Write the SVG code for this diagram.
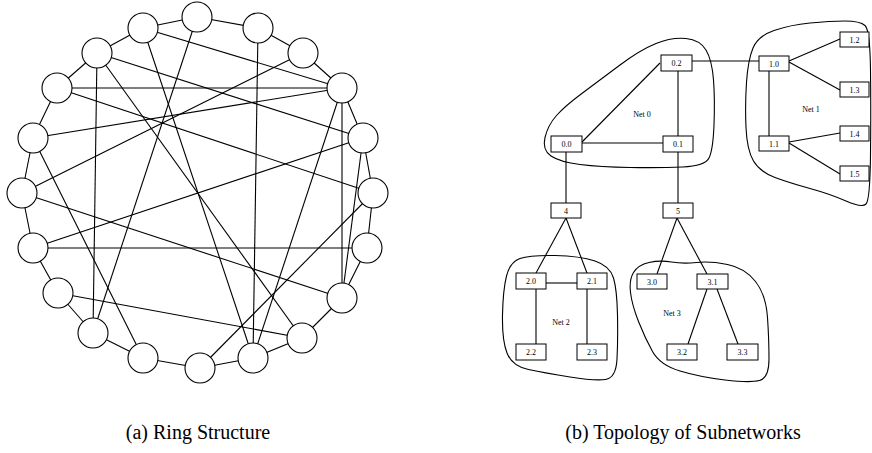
<svg xmlns="http://www.w3.org/2000/svg" width="872" height="453" viewBox="0 0 872 453">
<style>
.e{stroke:#000;stroke-width:1.1;fill:none}
.n{fill:#fff;stroke:#000;stroke-width:1.1}
.b{fill:#fff;stroke:#000;stroke-width:1}
.blob{fill:none;stroke:#000;stroke-width:1.1}
.t{font-family:"Liberation Serif",serif;font-size:8px;text-anchor:middle;fill:#000}
.cap{font-family:"Liberation Serif",serif;font-size:20px;text-anchor:middle;fill:#000}
</style>
<rect width="872" height="453" fill="#fff"/>
<g id="connectors" class="e">
<line x1="197" y1="17" x2="258" y2="28"/>
<line x1="258" y1="28" x2="303" y2="53"/>
<line x1="303" y1="53" x2="342" y2="88"/>
<line x1="342" y1="88" x2="363" y2="138"/>
<line x1="363" y1="138" x2="373" y2="193"/>
<line x1="373" y1="193" x2="367" y2="248"/>
<line x1="367" y1="248" x2="342" y2="298"/>
<line x1="342" y1="298" x2="302" y2="338"/>
<line x1="302" y1="338" x2="253" y2="358"/>
<line x1="253" y1="358" x2="200" y2="368"/>
<line x1="200" y1="368" x2="143" y2="358"/>
<line x1="143" y1="358" x2="93" y2="333"/>
<line x1="93" y1="333" x2="58" y2="293"/>
<line x1="58" y1="293" x2="33" y2="248"/>
<line x1="33" y1="248" x2="22" y2="193"/>
<line x1="22" y1="193" x2="33" y2="138"/>
<line x1="33" y1="138" x2="57" y2="88"/>
<line x1="57" y1="88" x2="97" y2="53"/>
<line x1="97" y1="53" x2="143" y2="28"/>
<line x1="143" y1="28" x2="197" y2="17"/>
<line x1="143" y1="28" x2="342" y2="88"/>
<line x1="143" y1="28" x2="253" y2="358"/>
<line x1="97" y1="53" x2="93" y2="333"/>
<line x1="97" y1="53" x2="363" y2="138"/>
<line x1="97" y1="53" x2="302" y2="338"/>
<line x1="57" y1="88" x2="342" y2="88"/>
<line x1="57" y1="88" x2="373" y2="193"/>
<line x1="33" y1="138" x2="342" y2="88"/>
<line x1="33" y1="138" x2="143" y2="358"/>
<line x1="22" y1="193" x2="303" y2="53"/>
<line x1="22" y1="193" x2="342" y2="298"/>
<line x1="33" y1="248" x2="363" y2="138"/>
<line x1="33" y1="248" x2="367" y2="248"/>
<line x1="58" y1="293" x2="302" y2="338"/>
<line x1="197" y1="17" x2="93" y2="333"/>
<line x1="258" y1="28" x2="253" y2="358"/>
<line x1="342" y1="88" x2="253" y2="358"/>
<line x1="342" y1="88" x2="342" y2="298"/>
<line x1="363" y1="138" x2="342" y2="298"/>
<line x1="373" y1="193" x2="200" y2="368"/>
<line x1="692" y1="61" x2="759" y2="61"/>
<line x1="678" y1="71" x2="678" y2="136"/>
<line x1="660" y1="63" x2="582" y2="142"/>
<line x1="582" y1="143" x2="663" y2="143"/>
<line x1="566" y1="152" x2="566" y2="203"/>
<line x1="678" y1="152" x2="678" y2="203"/>
<line x1="769" y1="71" x2="769" y2="136"/>
<line x1="789" y1="61" x2="840" y2="39"/>
<line x1="789" y1="62" x2="840" y2="90"/>
<line x1="789" y1="142" x2="840" y2="133"/>
<line x1="789" y1="143" x2="840" y2="174"/>
<line x1="566" y1="218" x2="536" y2="273"/>
<line x1="566" y1="218" x2="587" y2="273"/>
<line x1="546" y1="283" x2="577" y2="283"/>
<line x1="536" y1="289" x2="536" y2="344"/>
<line x1="587" y1="289" x2="587" y2="344"/>
<line x1="677" y1="218" x2="657" y2="274"/>
<line x1="677" y1="218" x2="707" y2="274"/>
<line x1="707" y1="289" x2="688" y2="344"/>
<line x1="717" y1="289" x2="738" y2="344"/>
</g>
<g id="ring">
<g id="r0"><circle class="n" cx="197" cy="17" r="15"/></g>
<g id="r1"><circle class="n" cx="258" cy="28" r="15"/></g>
<g id="r2"><circle class="n" cx="303" cy="53" r="15"/></g>
<g id="r3"><circle class="n" cx="342" cy="88" r="15"/></g>
<g id="r4"><circle class="n" cx="363" cy="138" r="15"/></g>
<g id="r5"><circle class="n" cx="373" cy="193" r="15"/></g>
<g id="r6"><circle class="n" cx="367" cy="248" r="15"/></g>
<g id="r7"><circle class="n" cx="342" cy="298" r="15"/></g>
<g id="r8"><circle class="n" cx="302" cy="338" r="15"/></g>
<g id="r9"><circle class="n" cx="253" cy="358" r="15"/></g>
<g id="r10"><circle class="n" cx="200" cy="368" r="15"/></g>
<g id="r11"><circle class="n" cx="143" cy="358" r="15"/></g>
<g id="r12"><circle class="n" cx="93" cy="333" r="15"/></g>
<g id="r13"><circle class="n" cx="58" cy="293" r="15"/></g>
<g id="r14"><circle class="n" cx="33" cy="248" r="15"/></g>
<g id="r15"><circle class="n" cx="22" cy="193" r="15"/></g>
<g id="r16"><circle class="n" cx="33" cy="138" r="15"/></g>
<g id="r17"><circle class="n" cx="57" cy="88" r="15"/></g>
<g id="r18"><circle class="n" cx="97" cy="53" r="15"/></g>
<g id="r19"><circle class="n" cx="143" cy="28" r="15"/></g>
</g>
<g id="net0"><path class="blob" d="M545,137.5 Q548,125 556.5,115.5 Q565,106 582.5,93 Q600,80 620,65 Q640,50 656,43.5 Q672,37 686,38.5 Q700,40 706,50 Q712,60 713.5,80 Q715,100 714,125 Q713,150 709,158 Q705,166 682.5,167 Q660,168 630,167.5 Q600,167 580,164.5 Q560,162 551,156 Q542,150 545,137.5 Z"/><text class="t" x="642" y="117">Net 0</text></g>
<g id="net1"><path class="blob" d="M753,48 Q758,36 774,30.5 Q790,25 810,23 Q830,21 845,21 Q860,21 865,25.5 Q870,30 870.5,70 Q871,110 870.5,155 Q870,200 866,204 Q862,208 846,201 Q830,194 810,188.5 Q790,183 775,177.5 Q760,172 753.5,161 Q747,150 746,127.5 Q745,105 746.5,82.5 Q748,60 753,48 Z"/><text class="t" x="811" y="112">Net 1</text></g>
<g id="net2"><path class="blob" d="M506.5,276 Q510,262 520,258.5 Q530,255 555,255.5 Q580,256 595,261 Q610,266 613.5,278 Q617,290 617.5,315 Q618,340 617,359 Q616,378 605.5,379.5 Q595,381 570,377 Q545,373 528.5,369.5 Q512,366 507,353 Q502,340 502.5,315 Q503,290 506.5,276 Z"/><text class="t" x="561" y="325">Net 2</text></g>
<g id="net3"><path class="blob" d="M633.5,272.5 Q638,265 649,262.5 Q660,260 671.5,262 Q683,264 696.5,262.5 Q710,261 727.5,264.5 Q745,268 755.5,281.5 Q766,295 767.5,317.5 Q769,340 769,359 Q769,378 759.5,380.5 Q750,383 725,380 Q700,377 680,371 Q660,365 652.5,351.5 Q645,338 638.5,321.5 Q632,305 630.5,292.5 Q629,280 633.5,272.5 Z"/><text class="t" x="672" y="316">Net 3</text></g>
<g id="b02"><rect class="b" x="661" y="55" width="31" height="16"/><text class="t" x="676.5" y="66">0.2</text></g>
<g id="b00"><rect class="b" x="551" y="136" width="31" height="16"/><text class="t" x="566.5" y="147">0.0</text></g>
<g id="b01"><rect class="b" x="663" y="136" width="30" height="16"/><text class="t" x="678" y="147">0.1</text></g>
<g id="b10"><rect class="b" x="759" y="56" width="30" height="15"/><text class="t" x="774" y="66.5">1.0</text></g>
<g id="b11"><rect class="b" x="759" y="136" width="30" height="15"/><text class="t" x="774" y="146.5">1.1</text></g>
<g id="b12"><rect class="b" x="840" y="32" width="29" height="15"/><text class="t" x="854.5" y="42.5">1.2</text></g>
<g id="b13"><rect class="b" x="840" y="82" width="29" height="15"/><text class="t" x="854.5" y="92.5">1.3</text></g>
<g id="b14"><rect class="b" x="840" y="126" width="29" height="15"/><text class="t" x="854.5" y="136.5">1.4</text></g>
<g id="b15"><rect class="b" x="840" y="166" width="29" height="15"/><text class="t" x="854.5" y="176.5">1.5</text></g>
<g id="b4"><rect class="b" x="551" y="203" width="30" height="15"/><text class="t" x="566" y="213.5">4</text></g>
<g id="b5"><rect class="b" x="663" y="203" width="30" height="15"/><text class="t" x="678" y="213.5">5</text></g>
<g id="b20"><rect class="b" x="516" y="273" width="30" height="16"/><text class="t" x="531" y="284">2.0</text></g>
<g id="b21"><rect class="b" x="577" y="273" width="30" height="16"/><text class="t" x="592" y="284">2.1</text></g>
<g id="b22"><rect class="b" x="516" y="344" width="30" height="16"/><text class="t" x="531" y="355">2.2</text></g>
<g id="b23"><rect class="b" x="577" y="344" width="30" height="16"/><text class="t" x="592" y="355">2.3</text></g>
<g id="b30"><rect class="b" x="637" y="274" width="30" height="15"/><text class="t" x="652" y="284.5">3.0</text></g>
<g id="b31"><rect class="b" x="697" y="274" width="31" height="15"/><text class="t" x="712.5" y="284.5">3.1</text></g>
<g id="b32"><rect class="b" x="667" y="344" width="30" height="16"/><text class="t" x="682" y="355">3.2</text></g>
<g id="b33"><rect class="b" x="727" y="344" width="31" height="16"/><text class="t" x="742.5" y="355">3.3</text></g>
<text class="cap" x="198" y="439">(a) Ring Structure</text>
<text class="cap" x="683" y="439">(b) Topology of Subnetworks</text>
</svg>
